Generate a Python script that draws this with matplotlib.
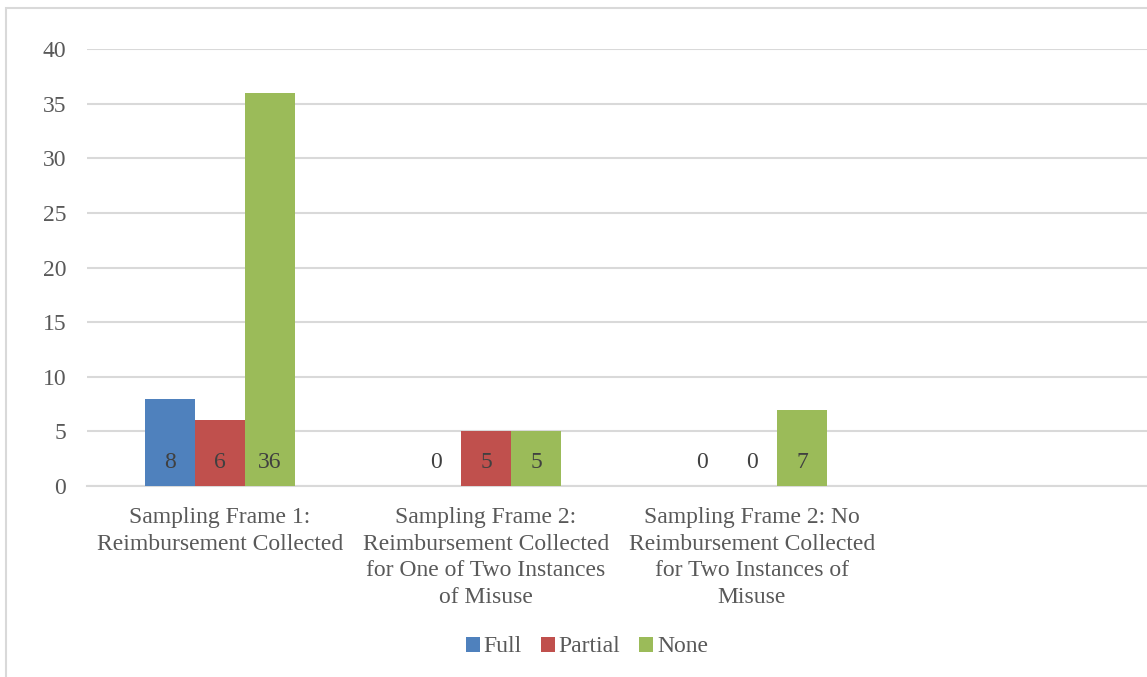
import matplotlib
matplotlib.use("Agg")
import matplotlib.pyplot as plt
from matplotlib.patches import Rectangle, Patch
import numpy as np

categories = [
    "Sampling Frame 1:\nReimbursement Collected",
    "Sampling Frame 2:\nReimbursement Collected\nfor One of Two Instances\nof Misuse",
    "Sampling Frame 2: No\nReimbursement Collected\nfor Two Instances of\nMisuse",
    "",
]
series_names = ["Full", "Partial", "None"]
full = [8, 0, 0]
partial = [6, 5, 0]
none = [36, 5, 7]
colors = ["#4F81BD", "#C0504D", "#9BBB59"]
yticks = [0, 5, 10, 15, 20, 25, 30, 35, 40]

plt.rcParams['font.family'] = 'serif'
plt.rcParams['font.serif'] = ['Liberation Serif', 'Times New Roman', 'DejaVu Serif']

FS = 17

W, H = 1147, 677
fig = plt.figure(figsize=(W / 100, H / 100), dpi=100)
fig.patch.set_facecolor("white")

fig.patches.append(Rectangle((6 / W, -0.1), 1.2, 1 - 8 / H + 0.1,
                             transform=fig.transFigure, fill=False,
                             edgecolor="#D9D9D9", linewidth=1.5))

left, right = 87 / W, 1151 / W
bottom, top = 1 - 486 / H, 1 - 49 / H
ax = fig.add_axes([left, bottom, right - left, top - bottom])

n = len(categories)
x = np.arange(n)
bw = 0.188
series = [full, partial, none]
for i, (vals, c, name) in enumerate(zip(series, colors, series_names)):
    xs = np.arange(len(vals)) + (i - 1) * bw
    ax.bar(xs, vals, width=bw, color=c, label=name, zorder=3)
    for xi, v in zip(xs, vals):
        ax.annotate(str(v), xy=(xi, 0), xytext=(0, 17), textcoords="offset points",
                    ha="center", va="center", fontsize=FS, color="#404040", zorder=4)

ax.set_xlim(-0.5, n - 0.5)
ax.set_ylim(0, 40)
ax.set_yticks(yticks)
ax.yaxis.grid(True, color="#D9D9D9", linewidth=1.5, zorder=0)
ax.set_axisbelow(True)
for s in ["left", "right", "top"]:
    ax.spines[s].set_visible(False)
ax.spines["bottom"].set_color("#D9D9D9")
ax.spines["bottom"].set_linewidth(1.5)
ax.set_xticks(x)
ax.set_xticklabels(categories, fontsize=FS, color="#595959", linespacing=1.36)
ax.tick_params(axis="x", length=0, pad=15)
ax.tick_params(axis="y", length=0, pad=15, labelsize=FS, labelcolor="#595959")

handles = [Patch(facecolor=c, label=nm) for c, nm in zip(colors, series_names)]
fig.legend(handles=handles, loc="center", bbox_to_anchor=(587 / W, 1 - 647 / H),
           ncol=3, frameon=False, fontsize=FS, handlelength=0.6, handleheight=0.6,
           handletextpad=0.15, columnspacing=0.8, labelcolor="#595959")

fig.savefig("out.png", dpi=100)
